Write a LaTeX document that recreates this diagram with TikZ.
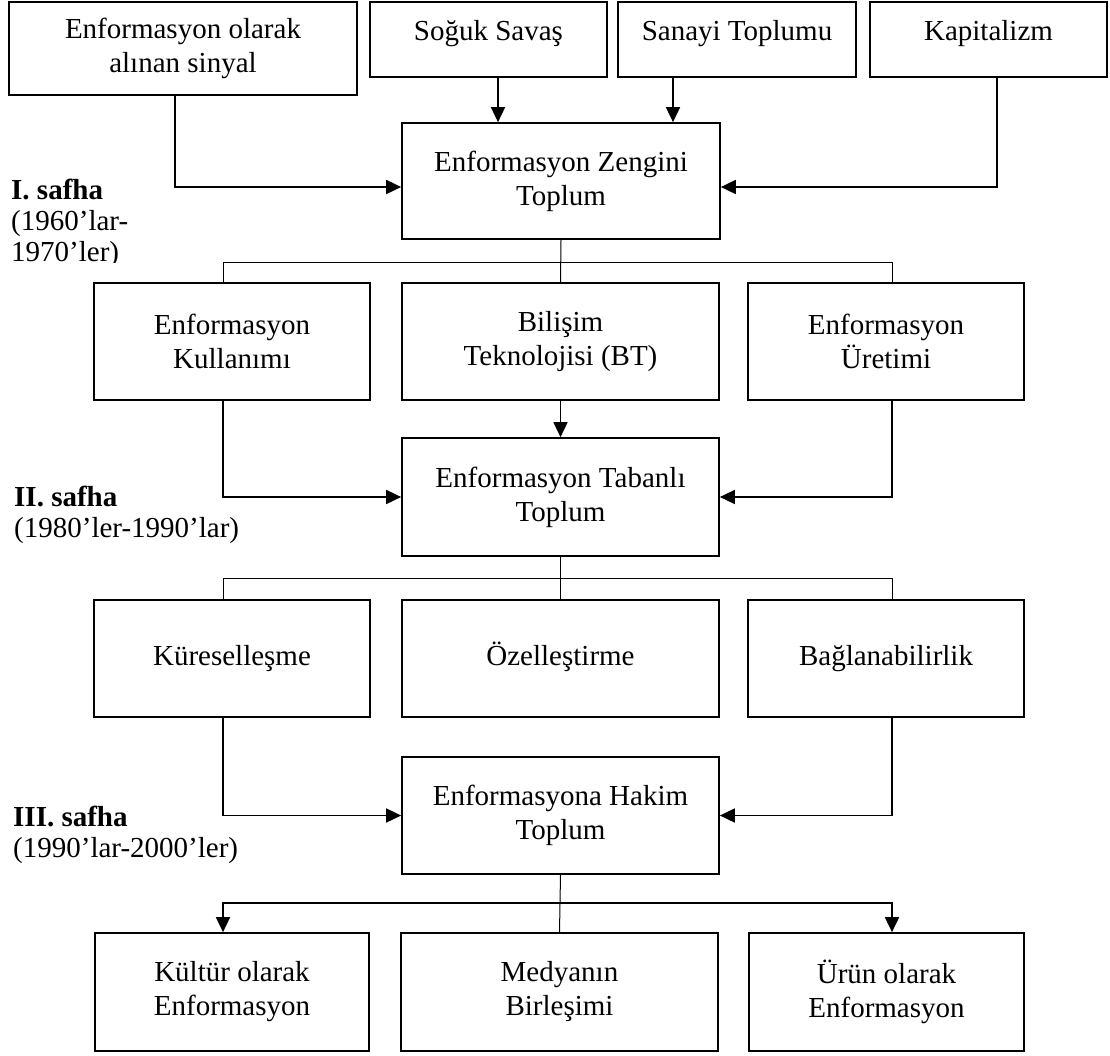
\documentclass[tikz,border=0pt]{standalone}
\usepackage{fontspec}
\setmainfont{Liberation Serif}
\usetikzlibrary{arrows.meta,calc}
\begin{document}
\begin{tikzpicture}[x=1pt,y=-1pt,
  box/.style={draw, line width=1.7pt, align=center, inner sep=0pt,
    font=\fontsize{29}{34}\selectfont},
  toptext/.style={text height=20pt, text depth=18pt},
  oneline/.style={text height=20pt, text depth=7pt},
  conn/.style={line width=1.7pt},
  arr/.style={conn, -{Triangle[length=15pt,width=14pt]}},
  thinline/.style={line width=1pt},
  phase/.style={anchor=north west, align=left, inner sep=0pt,
    font=\fontsize{29}{31}\selectfont}
]
\useasboundingbox (0,0) rectangle (1110,1055);

% reference columns and rows for the connectors
\coordinate (xA) at (175,0);
\coordinate (xS) at (498,0);
\coordinate (xT) at (673,0);
\coordinate (xK) at (997,0);
\coordinate (xL) at (223,0);
\coordinate (xR) at (892,0);
\coordinate (y1) at (0,187);
\coordinate (b1) at (0,262);
\coordinate (b2) at (0,578);
\coordinate (b3) at (0,903);

% top row: causes
\node[box, minimum width=348, minimum height=93] (sig) at (183,48.5)
  {Enformasyon olarak\\alınan sinyal};
\node[box, toptext, minimum width=237, minimum height=75] (sog) at (488.5,39.5)
  {Soğuk Savaş};
\node[box, toptext, minimum width=238, minimum height=75] (san) at (737,39.5)
  {Sanayi Toplumu};
\node[box, toptext, minimum width=237, minimum height=75] (kap) at (988.5,39.5)
  {Kapitalizm};

% phase I
\node[box, minimum width=318, minimum height=116] (zen) at (561,181)
  {Enformasyon Zengini\\Toplum};

\node[box, minimum width=276, minimum height=117] (kul) at (232,341.5)
  {Enformasyon\\Kullanımı};
\node[box, minimum width=317, minimum height=117] (bt) at (560.5,341.5)
  {Bilişim\\Teknolojisi (BT)};
\node[box, minimum width=276, minimum height=117] (ure) at (886,341.5)
  {Enformasyon\\Üretimi};

% phase II
\node[box, minimum width=317, minimum height=118] (tab) at (560.5,497)
  {Enformasyon Tabanlı\\Toplum};

\node[box, oneline, minimum width=276, minimum height=117] (kur) at (232,658.5)
  {Küreselleşme};
\node[box, oneline, minimum width=317, minimum height=117] (oze) at (560.5,658.5)
  {Özelleştirme};
\node[box, oneline, minimum width=276, minimum height=117] (bag) at (886,658.5)
  {Bağlanabilirlik};

% phase III
\node[box, minimum width=317, minimum height=117] (hak) at (560.5,815.5)
  {Enformasyona Hakim\\Toplum};

\node[box, minimum width=274, minimum height=118] (kul4) at (232,992)
  {Kültür olarak\\Enformasyon};
\node[box, minimum width=317, minimum height=118] (med) at (559.5,992)
  {Medyanın\\Birleşimi};
\node[box, minimum width=275, minimum height=118] (uru) at (886.5,992)
  {Ürün olarak\\Enformasyon};

% phase labels
\begin{scope}
  \clip (0,150) rectangle (390,262);
  \node[phase] (ph1) at (11,179) {\textbf{I. safha}\\(1960’lar-\\1970’ler)};
\end{scope}
\node[phase] (ph2) at (14,486) {\textbf{II. safha}\\(1980’ler-1990’lar)};
\node[phase] (ph3) at (13,806) {\textbf{III. safha}\\(1990’lar-2000’ler)};

% inputs to phase I
\draw[arr] (sog.south -| xS) -- (zen.north -| xS);
\draw[arr] (san.south -| xT) -- (zen.north -| xT);
\draw[arr] (sig.south -| xA) |- (zen.west |- y1);
\draw[arr] (kap.south -| xK) |- (zen.east |- y1);

% phase I branches
\draw[thinline] (zen.south) -- (bt.north);
\draw[thinline] (kul.north -| xL) |- (b1 -| xR) -- (ure.north -| xR);

% inputs to phase II
\draw[arr] (bt.south) -- (tab.north);
\draw[arr] (kul.south -| xL) |- (tab.west);
\draw[arr] (ure.south -| xR) |- (tab.east);

% phase II branches
\draw[thinline] (tab.south) -- (oze.north);
\draw[thinline] (kur.north -| xL) |- (b2 -| xR) -- (bag.north -| xR);

% inputs to phase III
\draw[arr] (kur.south -| xL) |- (hak.west);
\draw[arr] (bag.south -| xR) |- (hak.east);

% phase III outputs
\draw[thinline] (hak.south) -- (med.north);
\draw[arr] (hak.south |- b3) -| (kul4.north -| xL);
\draw[arr] (hak.south |- b3) -| (uru.north -| xR);
\end{tikzpicture}
\end{document}
